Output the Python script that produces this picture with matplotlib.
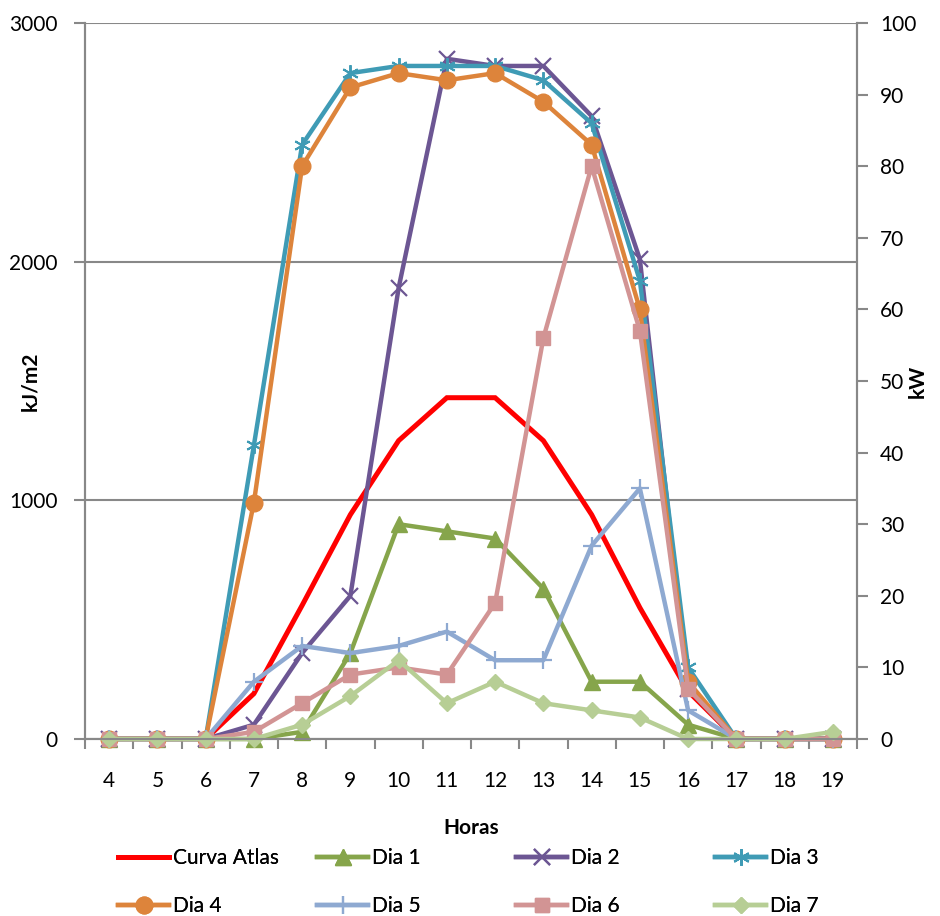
import matplotlib
matplotlib.use("Agg")
import matplotlib.pyplot as plt
import numpy as np

plt.rcParams['font.family'] = ['Lato', 'DejaVu Sans']

# Data
horas = [4, 5, 6, 7, 8, 9, 10, 11, 12, 13, 14, 15, 16, 17, 18, 19]
curva_atlas = [0, 0, 0, 190, 560, 940, 1250, 1430, 1430, 1250, 940, 550, 200, 0, 0, 0]   # kJ/m2
dia1 = [0, 0, 0, 0, 1, 12, 30, 29, 28, 21, 8, 8, 2, 0, 0, 0]        # kW
dia2 = [0, 0, 0, 2, 12, 20, 63, 95, 94, 94, 87, 67, 7, 0, 0, 0]
dia3 = [0, 0, 0, 41, 83, 93, 94, 94, 94, 92, 86, 64, 10, 0, 0, 0]
dia4 = [0, 0, 0, 33, 80, 91, 93, 92, 93, 89, 83, 60, 8, 0, 0, 0]
dia5 = [0, 0, 0, 8, 13, 12, 13, 15, 11, 11, 27, 35, 4, 0, 0, 0]
dia6 = [0, 0, 0, 1, 5, 9, 10, 9, 19, 56, 80, 57, 7, 0, 0, 0]
dia7 = [0, 0, 0, 0, 2, 6, 11, 5, 8, 5, 4, 3, 0, 0, 0, 1]

dias = [dia1, dia2, dia3, dia4, dia5, dia6, dia7]
nombres = ['Dia 1', 'Dia 2', 'Dia 3', 'Dia 4', 'Dia 5', 'Dia 6', 'Dia 7']
colores = ['#86A54B', '#6C5693', '#3F9BB5', '#DD843B', '#8EA9D1', '#D29494', '#B7CE95']
marcadores = ['^', 'x', (6, 2, 0), 'o', '+', 's', 'D']
tamanos = [12, 11, 12, 12, 13, 10, 8]
bordes = [1, 1.6, 1.4, 1, 1.6, 1, 1]

gris = '#888888'
fs = 15

fig = plt.figure(figsize=(9.4, 9.16), dpi=100)
ax = fig.add_axes([85 / 940, 1 - 739 / 916, 772 / 940, 716 / 916])
ax2 = ax.twinx()

x = np.arange(len(horas))
l0, = ax.plot(x, curva_atlas, color='#FF0000', lw=3.6, solid_joinstyle='miter',
              label='Curva Atlas', zorder=3)

lineas = [l0]
for d, n, c, m, s, b in zip(dias, nombres, colores, marcadores, tamanos, bordes):
    l, = ax2.plot(x, d, color=c, lw=3.2, marker=m, markersize=s, markerfacecolor=c,
                  markeredgecolor=c, markeredgewidth=b, label=n, clip_on=False)
    lineas.append(l)

ax.set_xlim(-0.5, len(horas) - 0.5)
ax.set_ylim(0, 3000)
ax2.set_ylim(0, 100)

ax.set_xticks(x)
ax.set_xticklabels([str(h) for h in horas])
ax.set_xticks(np.arange(-0.5, len(horas)), minor=True)
ax.tick_params(axis='x', which='major', length=0, pad=23, labelsize=fs)
ax.tick_params(axis='x', which='minor', length=7, width=1.5, color=gris, direction='out')

ax.set_yticks([0, 1000, 2000, 3000])
ax.tick_params(axis='y', length=8, width=1.5, color=gris, pad=11.5, labelsize=fs)
ax2.set_yticks(np.arange(0, 101, 10))
ax2.tick_params(axis='y', length=8, width=1.5, color=gris, pad=8.5, labelsize=fs)

ax.yaxis.grid(True, color=gris, lw=1.5)
ax.set_axisbelow(True)

for a in (ax, ax2):
    for sp in a.spines.values():
        sp.set_color(gris)
        sp.set_linewidth(1.5)
    a.spines['top'].set_visible(False)

# Axis titles
fig.text(30 / 940, 1 - 381 / 916, 'kJ/m2', rotation=90, ha='center', va='center',
         fontsize=fs, fontweight='bold')
fig.text(918 / 940, 1 - 381 / 916, 'kW', rotation=90, ha='center', va='center',
         fontsize=fs, fontweight='bold')
fig.text((85 + 857) / 2 / 940, 1 - 828 / 916, 'Horas', ha='center', va='center',
         fontsize=fs, fontweight='bold')

# Legend in four columns placed like the original
columnas = [[lineas[0], lineas[4]], [lineas[1], lineas[5]],
            [lineas[2], lineas[6]], [lineas[3], lineas[7]]]
xs = [118, 317, 516, 715]
for cols, xc in zip(columnas, xs):
    leg = fig.legend(handles=cols, loc='center left',
                     bbox_to_anchor=(xc / 940, 1 - 882 / 916),
                     frameon=False, fontsize=fs, handlelength=2.45,
                     handletextpad=0.2, borderpad=0, borderaxespad=0,
                     labelspacing=1.34, numpoints=1)
    fig.add_artist(leg)

fig.savefig('out.png', dpi=100)
